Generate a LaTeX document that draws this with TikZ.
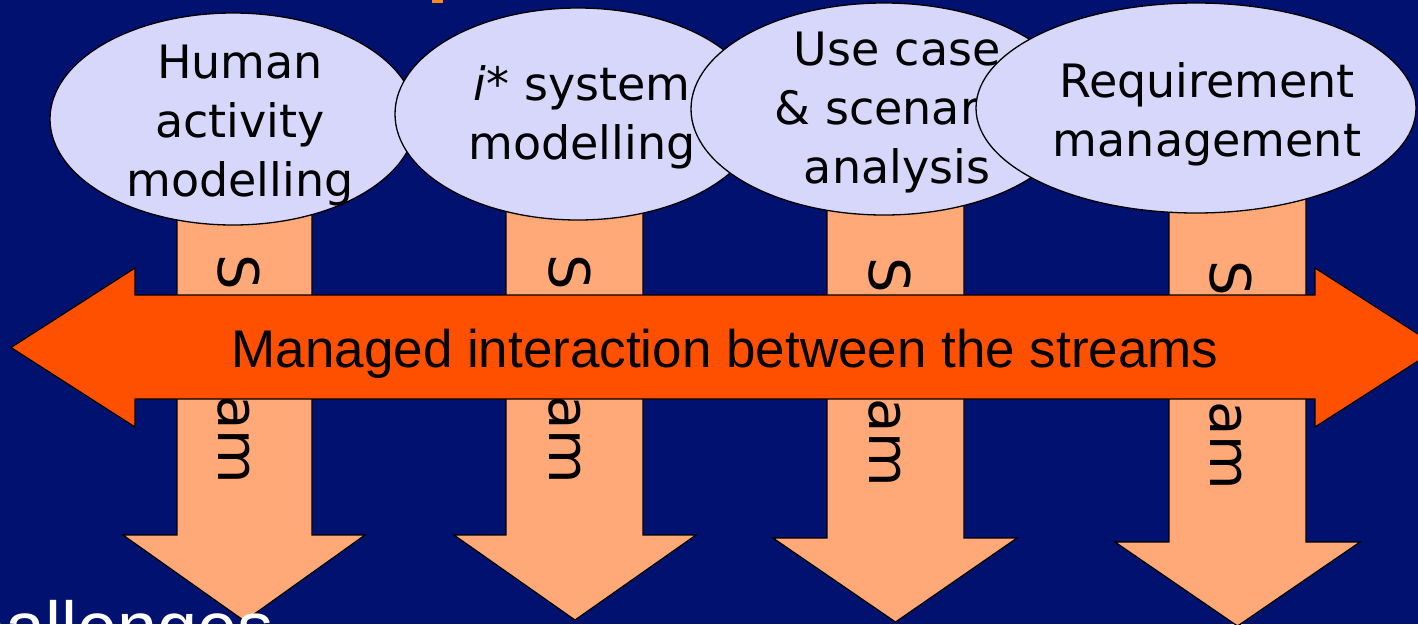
\documentclass[tikz,border=0pt]{standalone}
\usepackage{fontspec}
\setmainfont{Liberation Sans}
\newfontfamily\bubblefont{DejaVu Sans}
\usetikzlibrary{shapes.geometric}
\definecolor{navy}{RGB}{1,17,112}
\definecolor{lav}{RGB}{214,215,250}
\definecolor{salmon}{RGB}{255,168,120}
\definecolor{redorange}{RGB}{255,80,0}
\definecolor{titleorange}{RGB}{255,140,26}
\newcommand{\streamword}{S\kern27.6pt tream}
\begin{document}
\begin{tikzpicture}[x=1pt,y=-1pt,
  bubble/.style={ellipse, draw=black, line width=1.3pt, fill=lav, inner sep=0pt},
  btext/.style={font=\bubblefont\fontsize{46}{59}\selectfont, text width=420pt, align=center, anchor=base, inner sep=0pt},
  downarrow/.style={fill=salmon, draw=black, line width=1.2pt, line join=miter},
  harrow/.style={fill=redorange, draw=black, line width=1.2pt, line join=miter},
  stext/.style={font=\bubblefont\fontsize{56}{56}\selectfont, rotate=-90, anchor=base west, inner sep=0pt}
]
\useasboundingbox (0,0) rectangle (1418,624);
\clip (0,0) rectangle (1418,624);
\fill[navy] (0,0) rectangle (1418,624);
\fill[titleorange] (432,0) rectangle (443,2.5);

% down arrows (streams)
\draw[downarrow] (177,180) -- (177,535) -- (123,535) -- (244.5,621) -- (365,535) -- (312,535) -- (312,180) -- cycle;
\draw[downarrow] (506,180) -- (506,535) -- (454,535) -- (575,620) -- (696,535) -- (643,535) -- (643,180) -- cycle;
\draw[downarrow] (827,180) -- (827,538) -- (773,538) -- (895.5,622) -- (1017,538) -- (964,538) -- (964,180) -- cycle;
\draw[downarrow] (1169,180) -- (1169,542) -- (1115,542) -- (1237.5,626) -- (1360,542) -- (1306,542) -- (1306,180) -- cycle;
\node[stext] (s1) at (218,254) {\streamword};
\node[stext] (s2) at (549,254) {\streamword};
\node[stext] (s3) at (869,257) {\streamword};
\node[stext] (s4) at (1210,260) {\streamword};

% bubbles
\node[bubble, minimum width=366pt, minimum height=212pt] (e1) at (233,119) {};
\node[btext] (t1) at (240,78) {Human\\activity\\modelling};
\node[bubble, minimum width=366pt, minimum height=212pt] (e2) at (578,114) {};
\node[btext] (t2) at (582,100) {\textit{i}* system\\modelling};
\node[bubble, minimum width=386pt, minimum height=212pt] (e3) at (884,109) {};
\node[btext] (t3) at (897,65) {Use case\\\& scenario\\analysis};
\node[bubble, minimum width=440pt, minimum height=210pt] (e4) at (1196,108) {};
\node[btext] (t4) at (1207,97) {Requirement\\management};

% interaction arrow
\draw[harrow] (135,295) -- (135,268) -- (11,347.5) -- (135,427) -- (135,399) -- (1315,399) -- (1315,427) -- (1439,347.5) -- (1315,268) -- (1315,295) -- cycle;
\node[font=\fontsize{53}{60}\selectfont, anchor=base, inner sep=0pt] (lbl) at (725,367) {Managed interaction between the streams};

\node[font=\fontsize{72}{80}\selectfont, text=white, anchor=base west, inner sep=0pt] (ch) at (-87,652) {Challenges};
\end{tikzpicture}
\end{document}
